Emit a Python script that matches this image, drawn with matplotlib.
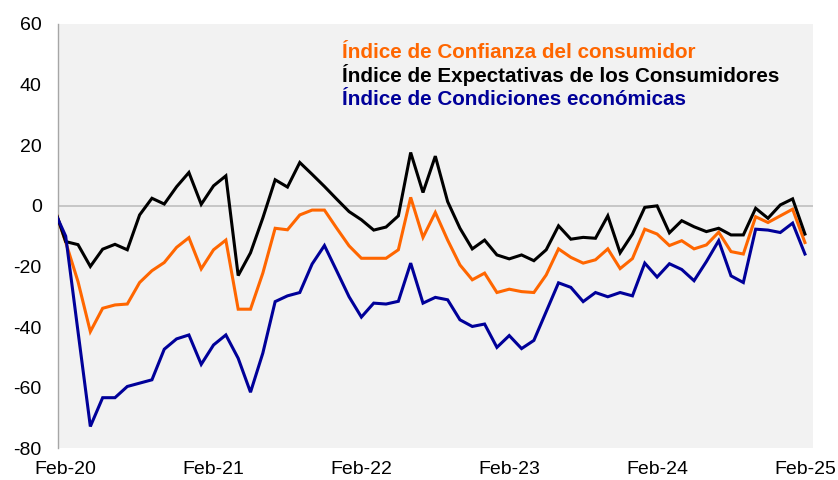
import matplotlib
matplotlib.use("Agg")
import matplotlib.pyplot as plt
import numpy as np

plt.rcParams['font.family'] = ['Liberation Sans', 'DejaVu Sans']

# Monthly data, Jan-20 .. Feb-25 (Jan-20 lies just outside the visible range)
months = ['Jan-20', 'Feb-20', 'Mar-20', 'Apr-20', 'May-20', 'Jun-20', 'Jul-20', 'Aug-20', 'Sep-20', 'Oct-20', 'Nov-20', 'Dec-20',
          'Jan-21', 'Feb-21', 'Mar-21', 'Apr-21', 'May-21', 'Jun-21', 'Jul-21', 'Aug-21', 'Sep-21', 'Oct-21', 'Nov-21', 'Dec-21',
          'Jan-22', 'Feb-22', 'Mar-22', 'Apr-22', 'May-22', 'Jun-22', 'Jul-22', 'Aug-22', 'Sep-22', 'Oct-22', 'Nov-22', 'Dec-22',
          'Jan-23', 'Feb-23', 'Mar-23', 'Apr-23', 'May-23', 'Jun-23', 'Jul-23', 'Aug-23', 'Sep-23', 'Oct-23', 'Nov-23', 'Dec-23',
          'Jan-24', 'Feb-24', 'Mar-24', 'Apr-24', 'May-24', 'Jun-24', 'Jul-24', 'Aug-24', 'Sep-24', 'Oct-24', 'Nov-24', 'Dec-24',
          'Jan-25', 'Feb-25']

confianza = [0.3, -12.0, -25.0, -41.5, -33.8, -32.7, -32.4, -25.3, -21.4, -18.7, -13.7, -10.5,
             -20.8, -14.5, -11.3, -34.1, -34.1, -22.2, -7.4, -7.9, -3.0, -1.4, -1.4, -7.4,
             -13.2, -17.3, -17.3, -17.3, -14.5, 2.8, -10.4, -2.2, -11.3, -19.5, -24.4, -22.2,
             -28.6, -27.5, -28.3, -28.6, -22.8, -14.2, -17.0, -18.9, -17.8, -14.2, -20.7, -17.4,
             -7.7, -9.3, -13.1, -11.5, -14.2, -12.9, -8.7, -15.1, -15.9, -3.6, -5.5, -3.3,
             -1.1, -12.1]

expectativas = [0.2, -11.8, -12.8, -20.0, -14.3, -12.7, -14.5, -3.0, 2.5, 0.6, 6.3, 11.0,
                0.5, 6.6, 9.9, -23.0, -15.5, -4.0, 8.6, 6.2, 14.3, 10.4, 6.4, 2.2,
                -1.9, -4.6, -8.0, -7.0, -3.3, 17.6, 4.4, 16.4, 1.4, -7.4, -14.2, -11.3,
                -16.2, -17.5, -16.2, -18.1, -14.5, -6.6, -11.0, -10.4, -10.7, -3.3, -15.5, -9.3,
                -0.5, 0.0, -8.9, -4.9, -6.9, -8.5, -7.4, -9.6, -9.6, -0.8, -4.1, 0.3,
                2.3, -9.3]

condiciones = [-1.0, -10.0, -41.5, -72.8, -63.3, -63.3, -59.6, -58.5, -57.4, -47.3, -43.9, -42.6,
               -52.3, -45.9, -42.6, -50.3, -61.5, -48.6, -31.6, -29.7, -28.6, -19.2, -13.1, -21.5,
               -30.0, -36.7, -32.1, -32.4, -31.5, -18.9, -32.1, -30.2, -31.0, -37.6, -39.8, -39.0,
               -46.7, -42.8, -47.1, -44.4, -34.9, -25.4, -26.9, -31.6, -28.6, -30.0, -28.6, -29.7,
               -18.9, -23.5, -19.1, -21.0, -24.7, -18.4, -11.5, -23.1, -25.3, -7.7, -8.0, -8.8,
               -5.7, -15.9]

tick_labels = ['Feb-20', 'Feb-21', 'Feb-22', 'Feb-23', 'Feb-24', 'Feb-25']
y_ticks = [-80, -60, -40, -20, 0, 20, 40, 60]

series_names = ['Índice de Confianza del consumidor',
                'Índice de Expectativas de los Consumidores',
                'Índice de Condiciones económicas']
colors = ['#FF6600', '#000000', '#000099']

x = np.arange(len(months)) - 1  # Feb-20 -> 0

fig = plt.figure(figsize=(8.38, 4.8), dpi=100)
ax = fig.add_axes([58.3 / 838, 1 - 448.3 / 480, (812.7 - 58.3) / 838, (448.3 - 24) / 480])
ax.set_facecolor('#F2F2F2')

for vals, c in zip([confianza, expectativas, condiciones], colors):
    ax.plot(x, vals, color=c, lw=2.2, solid_joinstyle='miter', zorder=3)

ax.axhline(0, color='#BFBFBF', lw=1.2, zorder=2)

ax.set_xlim(-0.6, 60.63)
ax.set_ylim(-80, 60)
ax.set_yticks(y_ticks)
ax.set_yticklabels([str(v) for v in y_ticks], fontsize=14)
tick_pos = [months.index(t) - 1 for t in tick_labels]
ax.set_xticks(tick_pos)
ax.set_xticklabels(tick_labels, fontsize=14)
ax.tick_params(axis='y', length=0, pad=12, colors='#000000')
ax.tick_params(axis='x', length=0, pad=9.5)

for s in ['top', 'right', 'bottom']:
    ax.spines[s].set_visible(False)
ax.spines['left'].set_color('#A6A6A6')
ax.spines['left'].set_linewidth(1.0)

baselines = [58.0, 81.5, 105.0]
for name, c, yb in zip(series_names, colors, baselines):
    fig.text(342 / 838, 1 - yb / 480, name, color=c, fontsize=14.9, fontweight='bold',
             ha='left', va='baseline')

fig.savefig('out.png', dpi=100, facecolor='white')
